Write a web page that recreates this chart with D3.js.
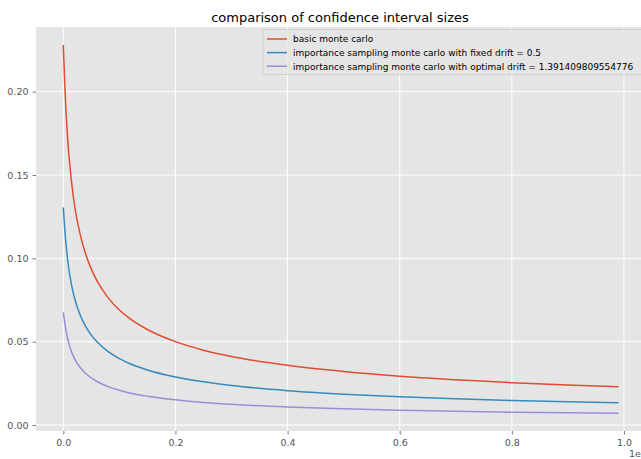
<!DOCTYPE html>
<html>
<head>
<meta charset="utf-8">
<script src="https://cdn.jsdelivr.net/npm/d3@7"></script>
<style>
  html, body { margin: 0; padding: 0; background: #ffffff; }
  svg { display: block; font-family: "DejaVu Sans", sans-serif; }
</style>
</head>
<body>
<svg id="chart" width="641" height="459"></svg>
<script>
// Sample sizes (in units of 1e6) at which the interval widths were recorded
const sampleSizes = [0, 0.0025, 0.005, 0.0075, 0.01, 0.015, 0.02, 0.03, 0.04, 0.05, 0.06, 0.08,
  0.10, 0.12, 0.15, 0.20, 0.25, 0.30, 0.40, 0.50, 0.60, 0.70, 0.80, 0.90, 0.99];

// Confidence interval sizes per estimator
const basicMC = [0.228, 0.205, 0.187, 0.173, 0.162, 0.145, 0.132, 0.1145, 0.1024, 0.0935, 0.0866, 0.0763,
  0.0690, 0.0635, 0.0573, 0.0500, 0.0449, 0.0411, 0.0358, 0.0321, 0.0293, 0.0272, 0.0254, 0.0240, 0.0230];
const fixedDriftIS = [0.1305, 0.118, 0.108, 0.0998, 0.0933, 0.0835, 0.0762, 0.0660, 0.0590, 0.0539, 0.0499, 0.0440,
  0.0398, 0.0366, 0.0330, 0.0288, 0.0259, 0.0237, 0.0206, 0.0185, 0.0169, 0.0157, 0.0147, 0.0139, 0.0133];
const optimalDriftIS = [0.0676, 0.0617, 0.0563, 0.0522, 0.0488, 0.0436, 0.0398, 0.0345, 0.0309, 0.0282, 0.0261, 0.0230,
  0.0208, 0.0191, 0.0173, 0.0151, 0.0135, 0.0124, 0.0108, 0.0097, 0.0089, 0.0082, 0.0077, 0.0073, 0.0071];

const seriesNames = [
  "basic monte carlo",
  "importance sampling monte carlo with fixed drift = 0.5",
  "importance sampling monte carlo with optimal drift = 1.391409809554776"
];
const seriesColors = ["#E24A33", "#348ABD", "#988ED5"];

const xTicks = [0, 0.2, 0.4, 0.6, 0.8, 1.0];
const yTicks = [0, 0.05, 0.10, 0.15, 0.20];

const series = [basicMC, fixedDriftIS, optimalDriftIS].map((vals, i) => ({
  name: seriesNames[i],
  color: seriesColors[i],
  points: vals.map((v, j) => [sampleSizes[j], v])
}));

const svg = d3.select("#chart");
const plot = { left: 36, right: 646, top: 27, bottom: 431 };

const x = d3.scaleLinear().domain([-0.0487, 1.0393]).range([plot.left, plot.right]);
const y = d3.scaleLinear().domain([-0.0036, 0.2388]).range([plot.bottom, plot.top]);

// panel background
svg.append("rect")
  .attr("x", plot.left).attr("y", plot.top)
  .attr("width", plot.right - plot.left).attr("height", plot.bottom - plot.top)
  .attr("fill", "#E5E5E5");

// grid lines
const grid = svg.append("g");
grid.selectAll(".gx").data(xTicks).join("line")
  .attr("x1", d => x(d)).attr("x2", d => x(d))
  .attr("y1", plot.top).attr("y2", plot.bottom)
  .attr("stroke", "#ffffff").attr("stroke-width", 1);
grid.selectAll(".gy").data(yTicks).join("line")
  .attr("x1", plot.left).attr("x2", plot.right)
  .attr("y1", d => y(d)).attr("y2", d => y(d))
  .attr("stroke", "#ffffff").attr("stroke-width", 1);

// axes
const xAxis = d3.axisBottom(x).tickValues(xTicks).tickFormat(d3.format(".1f")).tickSize(3.5).tickPadding(5);
const yAxis = d3.axisLeft(y).tickValues(yTicks).tickFormat(d3.format(".2f")).tickSize(3.5).tickPadding(4);

const gx = svg.append("g").attr("transform", `translate(0,${plot.bottom})`).call(xAxis);
const gy = svg.append("g").attr("transform", `translate(${plot.left},0)`).call(yAxis);
[gx, gy].forEach(g => {
  g.select(".domain").remove();
  g.selectAll(".tick line").attr("stroke", "#555555").attr("stroke-width", 0.8);
  g.selectAll(".tick text").attr("fill", "#555555").style("font-size", "9.5px")
    .style("font-family", "DejaVu Sans, sans-serif");
});

// offset label for the x axis
svg.append("text")
  .attr("x", 629).attr("y", 457)
  .attr("fill", "#555555").style("font-size", "9.5px")
  .text("1e6");

// curves
const line = d3.line()
  .x(d => x(d[0])).y(d => y(d[1]))
  .curve(d3.curveMonotoneX);

svg.append("g").selectAll("path").data(series).join("path")
  .attr("d", d => line(d.points))
  .attr("fill", "none")
  .attr("stroke", d => d.color)
  .attr("stroke-width", 1.5);

// title
svg.append("text")
  .attr("x", (plot.left + plot.right) / 2 - 1).attr("y", 21.5)
  .attr("text-anchor", "middle")
  .attr("fill", "#000000").style("font-size", "13px")
  .text("comparison of confidence interval sizes");

// legend
const legend = svg.append("g");
legend.append("rect")
  .attr("x", 263).attr("y", 29.5).attr("width", 390).attr("height", 45)
  .attr("rx", 2)
  .attr("fill", "#E5E5E5").attr("fill-opacity", 0.8)
  .attr("stroke", "#cccccc").attr("stroke-width", 0.8);
const rows = legend.selectAll(".row").data(series).join("g")
  .attr("transform", (d, i) => `translate(0,${39 + i * 13.6})`);
rows.append("line")
  .attr("x1", 267).attr("x2", 287).attr("y1", 0).attr("y2", 0)
  .attr("stroke", d => d.color).attr("stroke-width", 1.5);
rows.append("text")
  .attr("x", 293).attr("y", 3.3)
  .attr("fill", "#000000").style("font-size", "9px")
  .text(d => d.name);
</script>
</body>
</html>
